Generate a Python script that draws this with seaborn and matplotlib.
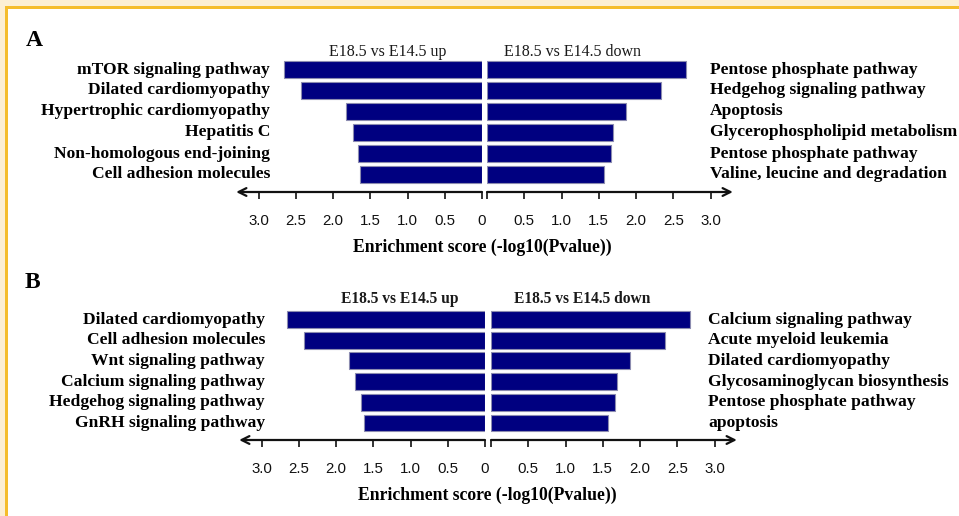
import matplotlib
matplotlib.use("Agg")
import matplotlib.pyplot as plt
from matplotlib.patches import Rectangle
import seaborn as sns
import pandas as pd

# ---- data -------------------------------------------------------------
a_up_terms = ["mTOR signaling pathway", "Dilated cardiomyopathy",
              "Hypertrophic cardiomyopathy", "Hepatitis C",
              "Non-homologous end-joining", "Cell adhesion molecules"]
a_up_scores = [2.66, 2.43, 1.82, 1.73, 1.66, 1.64]
a_down_terms = ["Pentose phosphate pathway", "Hedgehog signaling pathway",
                "Apoptosis", "Glycerophospholipid metabolism",
                "Pentose phosphate pathway", "Valine, leucine and degradation"]
a_down_scores = [2.67, 2.33, 1.86, 1.69, 1.67, 1.57]

b_up_terms = ["Dilated cardiomyopathy", "Cell adhesion molecules",
              "Wnt signaling pathway", "Calcium signaling pathway",
              "Hedgehog signaling pathway", "GnRH signaling pathway"]
b_up_scores = [2.66, 2.43, 1.82, 1.74, 1.66, 1.63]
b_down_terms = ["Calcium signaling pathway", "Acute myeloid leukemia",
                "Dilated cardiomyopathy", "Glycosaminoglycan biosynthesis",
                "Pentose phosphate pathway", "apoptosis"]
b_down_scores = [2.67, 2.33, 1.86, 1.69, 1.66, 1.57]

tick_values = [0, 0.5, 1.0, 1.5, 2.0, 2.5, 3.0]
tick_labels = ["0", "0.5", "1.0", "1.5", "2.0", "2.5", "3.0"]
up_title = "E18.5 vs E14.5 up"
down_title = "E18.5 vs E14.5 down"
x_title = "Enrichment score (-log10(Pvalue))"

# ---- style ------------------------------------------------------------
sns.set_theme(style="white")
plt.rcParams["font.family"] = ["Liberation Serif", "DejaVu Serif"]

W, H = 959, 516
fig = plt.figure(figsize=(W / 100, H / 100), dpi=100)
fig.patch.set_facecolor("white")

BAR = "#000080"
EDGE = "#8c8cb0"
INK = "#111111"
SANS = ["Liberation Sans", "DejaVu Sans"]
XMAX = 3.3
PX_PER_UNIT = 74.5
TERM_SIZE = 12.6


def fx(px):
    return px / W


def fy(py):
    return 1 - py / H


# decorative frame on the top and left edges
fig.patches.append(Rectangle((0, fy(6)), 1, 6 / H, transform=fig.transFigure,
                             facecolor="#fcefd3", edgecolor="none", zorder=0))
fig.patches.append(Rectangle((0, 0), 5 / W, 1, transform=fig.transFigure,
                             facecolor="#fcefd3", edgecolor="none", zorder=0))
fig.patches.append(Rectangle((5 / W, fy(9)), 1, 3 / H, transform=fig.transFigure,
                             facecolor="#f5bd2c", edgecolor="none", zorder=1))
fig.patches.append(Rectangle((5 / W, 0), 3 / W, fy(6), transform=fig.transFigure,
                             facecolor="#f5bd2c", edgecolor="none", zorder=1))


def half(zero_px, side, top_px, line_px, pitch, scores):
    """One half of a butterfly chart: side -1 grows left, +1 grows right."""
    span = XMAX * PX_PER_UNIT
    left_px = zero_px - span if side < 0 else zero_px
    ax = fig.add_axes([fx(left_px), fy(line_px), span / W, (line_px - top_px) / H])
    df = pd.DataFrame({"rank": [str(i) for i in range(len(scores))],
                       "score": scores})
    sns.barplot(data=df, x="score", y="rank", orient="h", ax=ax, color=BAR,
                saturation=1, width=0.82, edgecolor=EDGE, linewidth=0.8)
    n = len(scores)
    bottom = (n - 1) + (line_px - (top_px + 0.6 * pitch + (n - 1) * pitch)) / pitch
    ax.set_ylim(bottom, -0.6)
    if side < 0:
        ax.set_xlim(XMAX, 0)
        labels = tick_labels
    else:
        ax.set_xlim(0, XMAX)
        # the shared zero is labelled once, by the left half
        labels = [""] + tick_labels[1:]
    for s in ax.spines.values():
        s.set_visible(False)
    ax.set_facecolor("none")
    ax.set_ylabel("")
    ax.set_xlabel("")
    ax.set_yticks([])
    ax.set_xticks(tick_values)
    ax.set_xticklabels(labels, fontfamily=SANS, fontsize=10.8, color=INK)
    ax.tick_params(axis="x", bottom=True, direction="out", length=5, width=1.2,
                   color=INK, pad=11)
    start, end = ((1, 0), (0, 0)) if side < 0 else ((0, 0), (1, 0))
    ax.annotate("", xy=end, xytext=start, xycoords="axes fraction",
                textcoords="axes fraction", annotation_clip=False,
                arrowprops=dict(arrowstyle="->", lw=1.6, color=INK,
                                mutation_scale=14, shrinkA=0, shrinkB=0))
    return ax


def panel(letter, letter_xy, zero_l, zero_r, c0, pitch, line_px,
          up_terms, up_scores, down_terms, down_scores,
          lab_l, lab_r, up_xy, down_xy, xlab_xy, title_weight, title_size):
    top_px = c0 - 0.6 * pitch
    half(zero_l, -1, top_px, line_px, pitch, up_scores)
    half(zero_r, 1, top_px, line_px, pitch, down_scores)
    for i, (tl, tr) in enumerate(zip(up_terms, down_terms)):
        y = c0 + i * pitch
        fig.text(fx(lab_l), fy(y), tl, ha="right", va="center",
                 fontsize=TERM_SIZE, fontweight="bold", color="black")
        fig.text(fx(lab_r), fy(y), tr, ha="left", va="center",
                 fontsize=TERM_SIZE, fontweight="bold", color="black")
    fig.text(fx(letter_xy[0]), fy(letter_xy[1]), letter, ha="left", va="center",
             fontsize=17, fontweight="bold", color="black")
    fig.text(fx(up_xy[0]), fy(up_xy[1]), up_title, ha="center", va="center",
             fontsize=title_size, fontweight=title_weight, color="#1a1a1a")
    fig.text(fx(down_xy[0]), fy(down_xy[1]), down_title, ha="center", va="center",
             fontsize=title_size, fontweight=title_weight, color="#1a1a1a")
    fig.text(fx(xlab_xy[0]), fy(xlab_xy[1]), x_title, ha="center", va="center",
             fontsize=12.7, fontweight="bold", color="black")


panel("A", (26, 40), 482, 487, 69.5, 21.0, 192,
      a_up_terms, a_up_scores, a_down_terms, a_down_scores,
      270, 710, (388, 52), (572, 52), (482, 247), "normal", 11.5)
panel("B", (25, 283), 485, 491, 319.5, 20.7, 440,
      b_up_terms, b_up_scores, b_down_terms, b_down_scores,
      265, 708, (400, 299), (582, 299), (487, 495), "bold", 11.2)

fig.savefig("out.png", dpi=100)
